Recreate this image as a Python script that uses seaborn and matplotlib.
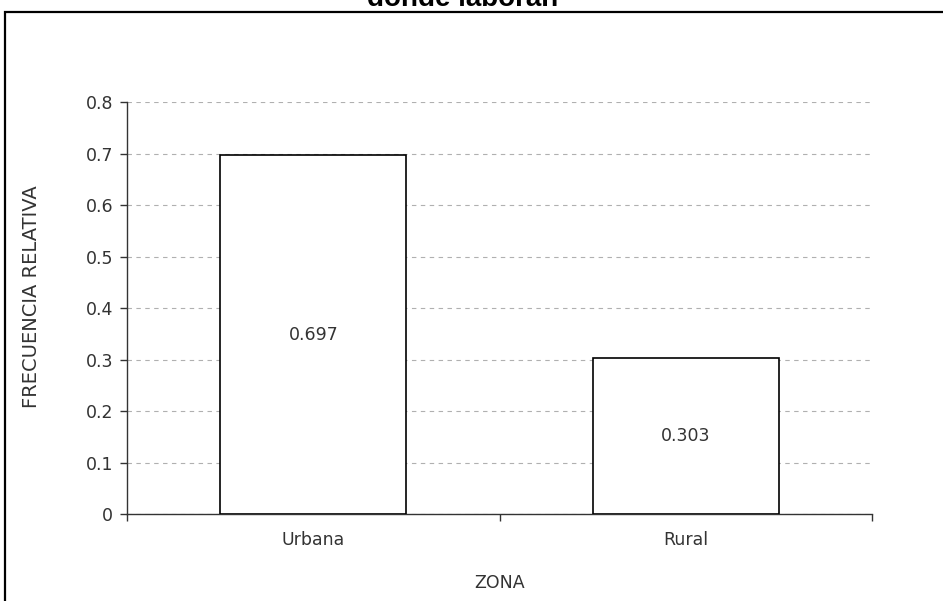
import matplotlib
matplotlib.use("Agg")
import matplotlib.pyplot as plt
import seaborn as sns
import pandas as pd
from matplotlib.patches import Rectangle

categories = ["Urbana", "Rural"]
values = [0.697, 0.303]
yticks = [0, 0.1, 0.2, 0.3, 0.4, 0.5, 0.6, 0.7, 0.8]
ytick_labels = ["0", "0.1", "0.2", "0.3", "0.4", "0.5", "0.6", "0.7", "0.8"]

sns.set_style("white")
plt.rcParams["font.family"] = ["DejaVu Sans"]

FS = 12.5
TXT = "#333333"
W, H = 943, 601
fig = plt.figure(figsize=(W / 100, H / 100), dpi=100)
ax = fig.add_axes([127 / W, 1 - 514 / H, (872 - 127) / W, (514 - 102) / H])

df = pd.DataFrame({"zona": categories, "frec": values})
sns.barplot(data=df, x="zona", y="frec", ax=ax, color="white", edgecolor="black",
            linewidth=1.2, width=0.5, zorder=3)
for p in ax.patches:
    p.set_facecolor("white")

ax.set_xlim(-0.5, 1.5)
ax.set_ylim(0, 0.8)
ax.set_yticks(yticks)
ax.set_yticklabels(ytick_labels, fontsize=FS, color=TXT)
ax.yaxis.grid(True, linestyle=(0, (4, 4)), color="#b0b0b0", linewidth=0.8, zorder=0)
ax.set_axisbelow(True)
for s in ["top", "right"]:
    ax.spines[s].set_visible(False)
for s in ["left", "bottom"]:
    ax.spines[s].set_color("#333333")
    ax.spines[s].set_linewidth(1.0)

# x tick marks between categories, labels centred
ax.set_xticks([-0.5, 0.5, 1.5])
ax.set_xticklabels([])
ax.set_xticks([0, 1], minor=True)
ax.set_xticklabels(categories, minor=True, fontsize=FS, color=TXT)
ax.tick_params(axis="x", which="major", direction="out", length=5, width=1, color="#333333", bottom=True)
ax.tick_params(axis="x", which="minor", length=0, pad=12)
ax.tick_params(axis="y", direction="out", length=5, width=1, color="#333333", left=True, pad=5)

ax.set_xlabel("ZONA", fontsize=FS, color=TXT, labelpad=18)
ax.set_ylabel("FRECUENCIA RELATIVA", fontsize=14, color=TXT)
ax.yaxis.set_label_coords((41 - 127) / 745, (514 - 297) / 412)

for i, v in enumerate(values):
    ax.text(i, v / 2, f"{v:.3f}", ha="center", va="center", fontsize=FS, color=TXT, zorder=4)

fig.text(463 / W, 1 - 6 / H, "donde laboran", ha="center", va="baseline",
         fontsize=20, fontweight="bold", color="black", family="Liberation Sans")
fig.patches.append(Rectangle((5 / W, -0.1), 1.2, 1 - 12 / H + 0.1, transform=fig.transFigure,
                             fill=False, edgecolor="black", linewidth=1.6, clip_on=False))

fig.savefig("out.png", dpi=100)
